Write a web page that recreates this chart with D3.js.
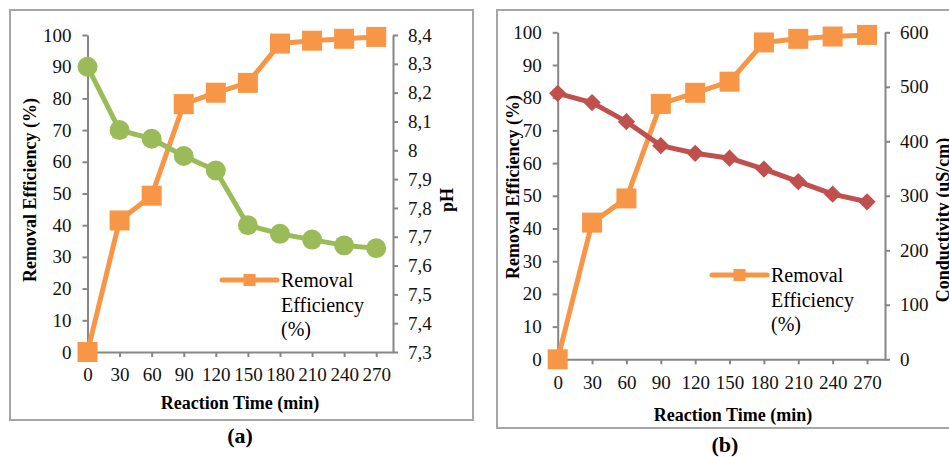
<!DOCTYPE html>
<html>
<head>
<meta charset="utf-8">
<script src="https://cdn.jsdelivr.net/npm/d3@7"></script>
<style>
  body { margin: 0; background: #fff; }
</style>
</head>
<body>
<div id="vis"></div>
<script>
// shared x values (reaction time, min)
const times = [0, 30, 60, 90, 120, 150, 180, 210, 240, 270];

// panel (a)
const removalA = [0, 41.5, 49.3, 78.2, 81.8, 84.9, 97.3, 98.2, 98.8, 99.4];
const phA = [8.29, 8.07, 8.04, 7.98, 7.93, 7.74, 7.71, 7.69, 7.67, 7.66];
const phTicks = [7.3, 7.4, 7.5, 7.6, 7.7, 7.8, 7.9, 8.0, 8.1, 8.2, 8.3, 8.4];

// panel (b)
const removalB = [0, 41.8, 49.2, 78.1, 81.5, 84.9, 96.9, 98.0, 98.7, 99.2];
const conductivityB = [488, 471, 436, 392, 378, 369, 349, 326, 303, 289];
const condTicks = [0, 100, 200, 300, 400, 500, 600];

const removalTicks = [0, 10, 20, 30, 40, 50, 60, 70, 80, 90, 100];

const orange = "#F79646", green = "#9BBB59", red = "#C0504D";
const serif = "'Liberation Serif'";

const svg = d3.select("#vis")
  .append("svg")
    .attr("width", 949)
    .attr("height", 457);

function drawPanel(p) {
  const g = svg.append("g");

  // outer frame
  g.append("rect")
    .attr("x", p.frame[0]).attr("y", p.frame[1])
    .attr("width", p.frame[2]).attr("height", p.frame[3])
    .attr("fill", "none").attr("stroke", "#A6A6A6").attr("stroke-width", 2);

  const x = d3.scaleLinear().domain([0, 285.7]).range([p.left, p.right]);
  const yL = d3.scaleLinear().domain([0, 100]).range([p.bottom, p.top]);
  const yR = d3.scaleLinear().domain(p.rDomain).range([p.bottom, p.top]);

  // axes
  g.append("g").attr("class", "axis")
    .attr("transform", `translate(${p.left},0)`)
    .call(d3.axisLeft(yL).tickValues(removalTicks).tickSize(5).tickSizeOuter(0).tickPadding(11));
  g.append("g").attr("class", "axis")
    .attr("transform", `translate(${p.right},0)`)
    .call(d3.axisRight(yR).tickValues(p.rTicks).tickSize(5).tickSizeOuter(0).tickPadding(10).tickFormat(p.rFormat));
  g.append("g").attr("class", "axis")
    .attr("transform", `translate(0,${p.bottom})`)
    .call(d3.axisBottom(x).tickValues(times).tickSize(5).tickSizeOuter(0).tickPadding(11).tickFormat(d3.format("d")));
  g.selectAll(".axis path, .axis line").style("stroke", "#868686").style("stroke-width", 2);
  g.selectAll(".axis text").style("fill", "#111").style("font-size", "19px");

  // removal efficiency series
  const line = d3.line().x((d, i) => x(times[i])).y(d => yL(d));
  g.append("path").datum(p.removal)
    .attr("d", line).attr("fill", "none")
    .attr("stroke", orange).attr("stroke-width", 5).attr("stroke-linejoin", "round");
  g.selectAll(".sq").data(p.removal).join("rect")
    .attr("x", (d, i) => x(times[i]) - 10).attr("y", d => yL(d) - 10)
    .attr("width", 20).attr("height", 20).attr("fill", orange);

  // secondary series
  const line2 = d3.line().x((d, i) => x(times[i])).y(d => yR(d));
  g.append("path").datum(p.second)
    .attr("d", line2).attr("fill", "none")
    .attr("stroke", p.color).attr("stroke-width", 5).attr("stroke-linejoin", "round");
  const sym = d3.symbol().type(p.symbol).size(p.symSize);
  g.selectAll(".mk").data(p.second).join("path")
    .attr("d", sym)
    .attr("transform", (d, i) => `translate(${x(times[i])},${yR(d)})` + (p.symbol === d3.symbolSquare ? " rotate(45)" : ""))
    .attr("fill", p.color);

  // titles
  const title = sel => sel.style("font-size", "18px").style("font-weight", "bold").attr("text-anchor", "middle");
  g.append("text").call(title)
    .attr("transform", `translate(${p.lTitle[0]},${p.lTitle[1]}) rotate(-90)`)
    .attr("dy", "0.35em")
    .text("Removal Efficiency (%)");
  g.append("text").call(title)
    .attr("transform", `translate(${p.rTitle[0]},${p.rTitle[1]}) rotate(-90)`)
    .attr("dy", "0.35em")
    .text(p.rName);
  g.append("text").call(title)
    .attr("x", p.xTitle[0]).attr("y", p.xTitle[1])
    .text("Reaction Time (min)");
  g.append("text")
    .attr("text-anchor", "middle")
    .attr("x", p.tag[0]).attr("y", p.tag[1])
    .style("font-size", "22px").style("font-weight", "bold")
    .text(p.tagText);

  // legend
  const lg = g.append("g").attr("transform", `translate(${p.legend[0]},${p.legend[1]})`);
  lg.append("line").attr("x1", 0).attr("x2", 55).attr("y1", 0).attr("y2", 0)
    .attr("stroke", orange).attr("stroke-width", 5).attr("stroke-linecap", "round");
  lg.append("rect").attr("x", 21.5).attr("y", -6).attr("width", 12).attr("height", 12).attr("fill", orange);
  ["Removal", "Efficiency", "(%)"].forEach((t, i) => {
    lg.append("text").attr("x", 59).attr("y", 7 + i * 24.5)
      .style("font-size", "20px").text(t);
  });
}

const phFormat = d => d === 8 ? "8" : d3.format(".1f")(d).replace(".", ",");

drawPanel({
  frame: [10, 10, 463, 410],
  left: 87.5, right: 393, top: 35, bottom: 352,
  removal: removalA, second: phA,
  rDomain: [7.3, 8.4], rTicks: phTicks, rFormat: phFormat,
  color: green, symbol: d3.symbolCircle, symSize: 314,
  lTitle: [30, 190], rTitle: [447, 200], rName: "pH",
  xTitle: [240, 408.5], tag: [240, 443], tagText: "(a)",
  legend: [222, 280]
});

drawPanel({
  frame: [497, 10, 470, 418],
  left: 557.7, right: 885, top: 32.3, bottom: 359.3,
  removal: removalB, second: conductivityB,
  rDomain: [0, 600], rTicks: condTicks, rFormat: d3.format("d"),
  color: red, symbol: d3.symbolSquare, symSize: 150,
  lTitle: [513, 187], rTitle: [943, 220], rName: "Conductivity (uS/cm)",
  xTitle: [733, 420.5], tag: [725, 452], tagText: "(b)",
  legend: [712, 275]
});

// every text in the serif face, set inline
svg.selectAll("text").style("font-family", serif);
</script>
</body>
</html>
